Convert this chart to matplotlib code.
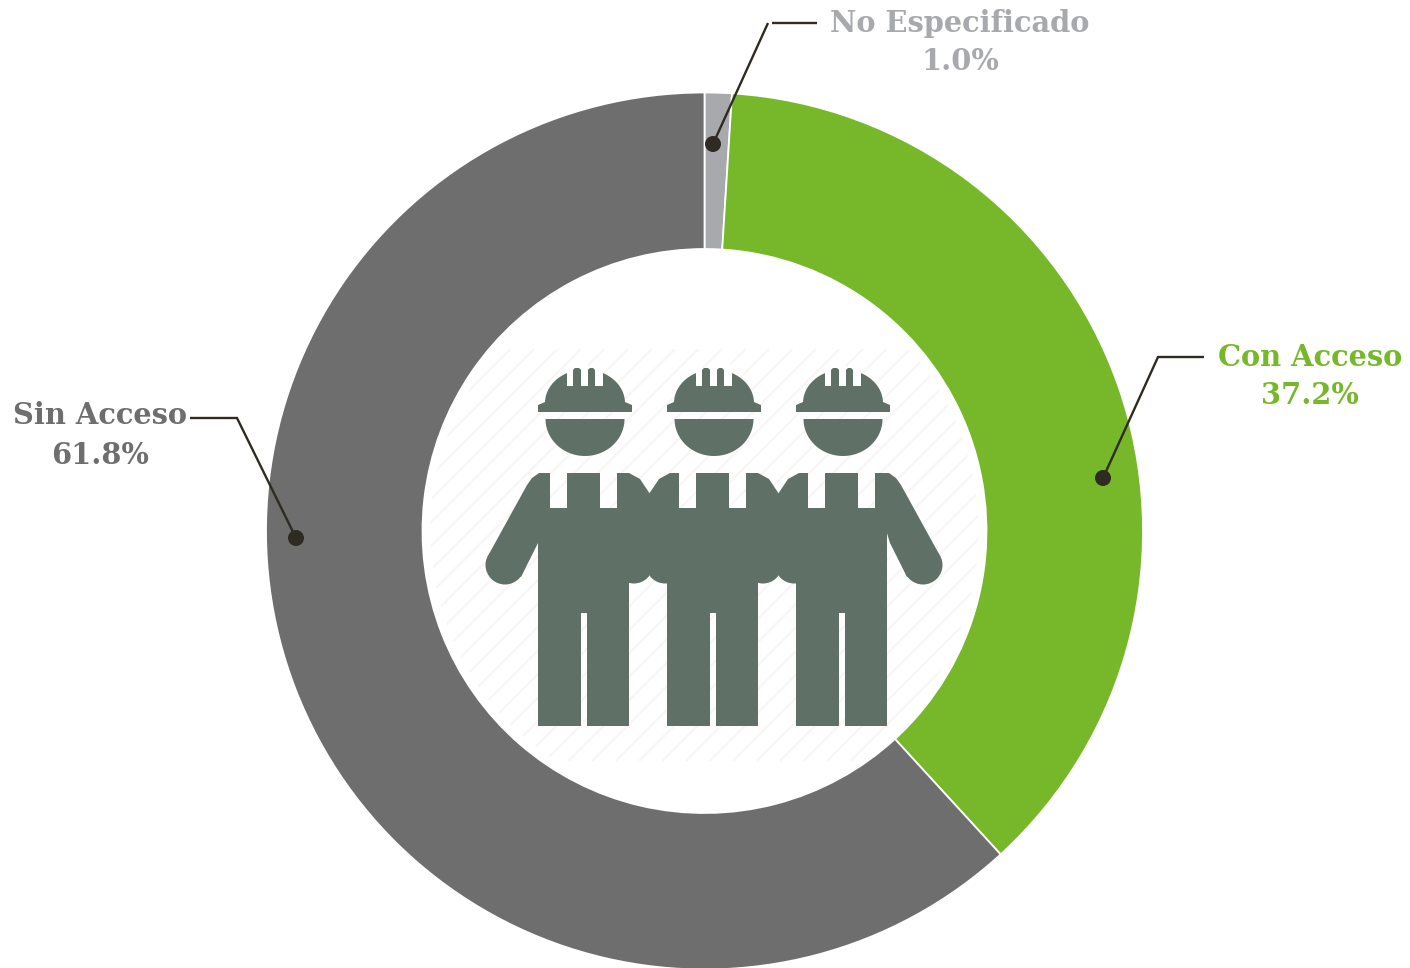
import numpy as np
import matplotlib
matplotlib.use("Agg")
import matplotlib.pyplot as plt
from matplotlib.patches import Circle, Polygon, Rectangle

W, H = 1410, 968
categories = ["No Especificado", "Con Acceso", "Sin Acceso"]
shares = [1.0, 37.2, 61.8]
colors = ["#a7a9ac", "#76b82a", "#6e6e6e"]
label_texts = ["1.0%", "37.2%", "61.8%"]
ICON = "#5f7167"
INK = "#2f2a22"
CX, CY, RO, RI = 704.5, 531.0, 438.5, 282.0

def Y(y):
    return H - y

fig = plt.figure(figsize=(W / 100, H / 100), dpi=100, facecolor="white")
ax = fig.add_axes([0, 0, 1, 1])
ax.pie(shares, colors=colors, startangle=90, counterclock=False,
       center=(CX, Y(CY)), radius=RO,
       wedgeprops=dict(width=RO - RI, edgecolor="white", linewidth=1.3))
ax.set_xlim(0, W)
ax.set_ylim(0, H)
ax.set_aspect("equal")
ax.axis("off")

# faint hatching behind the icon
clip = Circle((CX, Y(CY)), RI - 8, transform=ax.transData)
for c in np.arange(-300, 1100, 23.5):
    ln, = ax.plot([c, c + 410], [Y(760), Y(350)], color="#f7f6f5", lw=1.5, zorder=2)
    ln.set_clip_path(clip)

def poly(pts, color=ICON, z=3):
    ax.add_patch(Polygon([(x, Y(y)) for x, y in pts], closed=True, fc=color, ec="none", zorder=z))

def half_ellipse(cx, cy, rx, ry, up=True):
    t = np.linspace(0, np.pi, 60)
    s = -1 if up else 1
    poly(list(zip(cx + rx * np.cos(t), cy + s * ry * np.sin(t))))

def outer_arm(cx, side, strap, edge):
    poly([(cx + side * strap, 473), (cx + side * 46, 473), (cx + side * 53, 478), (cx + side * 58, 485),
          (cx + side * 96, 554), (cx + side * 64, 577), (cx + side * 47, 543), (cx + side * edge, 530),
          (cx + side * edge, 508), (cx + side * strap, 508)])
    ax.add_patch(Circle((cx + side * 80, Y(565)), 19.5, fc=ICON, ec="none", zorder=3))

def inner_arm(cx, side, strap):
    poly([(cx + side * strap, 473), (cx + side * 44, 473), (cx + side * 55, 479), (cx + side * 65, 494),
          (cx + side * 65, 565), (cx + side * 49, 583), (cx + side * strap, 583)])
    ax.add_patch(Circle((cx + side * 49, Y(564.5)), 19, fc=ICON, ec="none", zorder=3))

def figure_icon(cx, left_outer, right_outer):
    half_ellipse(cx, 403, 40, 33.5)
    for dx0, dx1 in [(-18, -12), (-4, 3), (10, 18)]:
        ax.add_patch(Rectangle((cx + dx0, Y(386)), dx1 - dx0, 22, fc="white", ec="none", zorder=4))
    for dx0, dx1 in [(-12, -4), (3, 10)]:
        poly([(cx + dx0, 386), (cx + dx0, 370), (cx + dx0 + 2, 368), (cx + dx1 - 2, 368),
              (cx + dx1, 370), (cx + dx1, 386)], z=5)
    poly([(cx - 47, 405), (cx - 40, 402), (cx + 40, 402), (cx + 47, 405), (cx + 47, 412), (cx - 47, 412)])
    half_ellipse(cx, 419, 39.5, 37, up=False)
    # neck, torso, legs
    ax.add_patch(Rectangle((cx - 18, Y(508)), 33, 35, fc=ICON, ec="none", zorder=3))
    ax.add_patch(Rectangle((cx - 47, Y(613)), 90.5, 105, fc=ICON, ec="none", zorder=3))
    ax.add_patch(Rectangle((cx - 47, Y(726)), 43, 113, fc=ICON, ec="none", zorder=3))
    ax.add_patch(Rectangle((cx + 2, Y(726)), 41.5, 113, fc=ICON, ec="none", zorder=3))
    if left_outer:
        outer_arm(cx, -1, 35, 47)
    else:
        inner_arm(cx, -1, 35)
    if right_outer:
        outer_arm(cx, 1, 32, 43)
    else:
        inner_arm(cx, 1, 32)

figure_icon(585, True, False)
figure_icon(714, False, False)
figure_icon(843, False, True)

# callouts
callouts = [
    [(713, 144), (768, 23)],
    [(1103, 478), (1158, 357), (1204, 357)],
    [(296, 538), (237, 418), (190, 418)],
]
for pts in callouts:
    xs, ys = zip(*pts)
    ax.plot(xs, [Y(v) for v in ys], color=INK, lw=1.7, zorder=6, solid_capstyle="butt", solid_joinstyle="miter")
    ax.add_patch(Circle((xs[0], Y(ys[0])), 8, fc=INK, ec="none", zorder=7))
ax.plot([772, 817], [Y(23), Y(23)], color=INK, lw=1.7, zorder=6, solid_capstyle="butt")

font = dict(family="DejaVu Serif", fontweight="bold", fontsize=20.8, ha="center", va="center")
positions = [(960, 23, 61), (1310, 358, 396), (100, 416, 456)]
for name, val, col, (x, y1, y2) in zip(categories, label_texts, colors, positions):
    ax.text(x, Y(y1), name, color=col, **font)
    ax.text(x, Y(y2), val, color=col, **font)

fig.savefig("out.png", dpi=100, facecolor="white")
